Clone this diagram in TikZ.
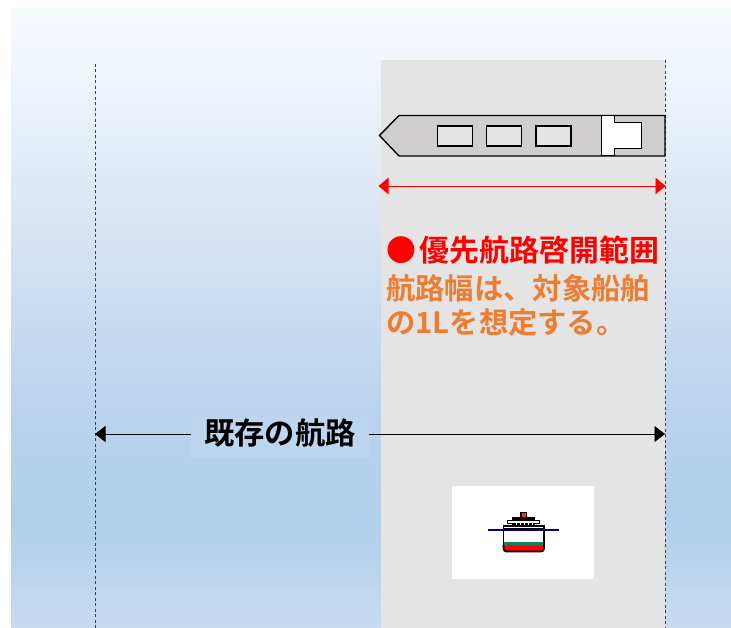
\documentclass[tikz,border=0pt]{standalone}
\usepackage{fontspec}
\usetikzlibrary{arrows.meta}
\newfontfamily\cjk{Noto Sans CJK JP Bold}
\definecolor{skyA}{HTML}{F6FAFD}
\definecolor{skyB}{HTML}{ECF2FA}
\definecolor{skyC}{HTML}{DCE7F5}
\definecolor{skyD}{HTML}{CBDDF1}
\definecolor{skyE}{HTML}{BCD4EC}
\definecolor{skyF}{HTML}{B0CFE8}
\definecolor{skyG}{HTML}{C8DBF0}
\definecolor{channel}{HTML}{E4E4E4}
\definecolor{hull}{HTML}{CFCDCD}
\definecolor{orangetxt}{HTML}{ED7D31}
\definecolor{labelbg}{HTML}{BBD6EE}
\definecolor{shipgreen}{HTML}{0F8060}
\definecolor{navy}{HTML}{000080}
% stops: 25bp = bottom edge (y=628), 75bp = top edge (y=9)
\pgfdeclareverticalshading{seashade}{100bp}{%
  color(0bp)=(skyG); color(25bp)=(skyG); color(33.7bp)=(skyF); color(43.4bp)=(skyE);
  color(51.5bp)=(skyD); color(59.5bp)=(skyC); color(67.6bp)=(skyB); color(75bp)=(skyA); color(100bp)=(skyA)}
\tikzset{
  x=1pt,y=-1pt,
  guide/.style={line width=0.7pt,black!75,dash pattern=on 3pt off 2.5pt},
  shipline/.style={draw=black,line width=1.4pt,line join=miter},
  cabin/.style={shipline,fill=channel},
  redtxt/.style={text=red,font=\cjk\fontsize{29.9}{30}\selectfont,anchor=west,inner sep=0pt},
  orangeline/.style={text=orangetxt,font=\cjk\fontsize{29.3}{30}\selectfont,anchor=west,inner sep=0pt},
  redarrow/.style={red,line width=0.8pt,{Triangle[length=10pt,width=16.5pt]}-{Triangle[length=10pt,width=16.5pt]},shorten <=-0.5pt,shorten >=-0.5pt},
  blackarrow/.style={black,line width=0.8pt,-{Triangle[length=10.5pt,width=16pt]}},
}
\begin{document}
\begin{tikzpicture}
\useasboundingbox (0,0) rectangle (731,628);
% background sea
\fill[white] (0,0) rectangle (731,628);
\shade[shading=seashade] (11,9) rectangle (731,628);
% channel
\fill[channel] (381,60) rectangle (665,628);
% guides
\coordinate (gl0) at (95.5,64); \coordinate (gl1) at (95.5,628);
\coordinate (gr0) at (665.5,60); \coordinate (gr1) at (665.5,628);
\draw[guide] (gl0) -- (gl1);
\draw[guide] (gr0) -- (gr1);
% long ship
\draw[shipline,fill=hull] (379.5,135.5) -- (399,115.5) -- (665,115.5) -- (665,156) -- (399,156) -- cycle;
\draw[cabin] (437.5,126) rectangle (472.5,146);
\draw[cabin] (486.5,126) rectangle (521.5,146);
\draw[cabin] (536,126) rectangle (571,146);
\draw[shipline,fill=white,line width=1pt] (601,115.5) -- (614,115.5) -- (614,123) -- (641,123) -- (641,148.5) -- (614,148.5) -- (614,156) -- (601,156) -- cycle;
% red arrow
\coordinate (ra) at (379,186); \coordinate (rb) at (665,186);
\draw[redarrow] (ra) -- (rb);
% red and orange text
\node[text=red,font=\cjk\fontsize{29.9}{30}\selectfont,anchor=west,inner sep=0pt] (dot) at (386,250) {●};
\node[redtxt] (title) at (419.5,250) {優先航路啓開範囲};
\node[orangeline] (l1) at (386,288.5) {航路幅は、対象船舶};
\node[orangeline] (l2) at (386,322) {の1Lを想定する。};
% existing channel label
\fill[labelbg] (191,417) rectangle (369,458);
\node[inner sep=0pt,text=black,font=\cjk\fontsize{30.3}{32}\selectfont] (ex) at (280,433) {既存の航路};
\coordinate (al) at (95,434); \coordinate (ar) at (665,434);
\coordinate (bl) at (191,434); \coordinate (br) at (369,434);
\draw[blackarrow] (bl) -- (al);
\draw[blackarrow] (br) -- (ar);
% end-on ship
\fill[white] (452,486) rectangle (594,579);
\fill[black] (520,512) rectangle (527,517);
\fill[orange!40!red] (521.5,513) rectangle (525.5,516.5);
\fill[black] (512,516.5) rectangle (535,520);
\draw[black,line width=1pt,fill=white] (507.5,520) rectangle (539.5,523);
\fill[black] (514,518) rectangle (533,519.5);
\fill[black] (512,523) rectangle (535,526);
\foreach \xx in {516,520,524,528,532}{\fill[white] (\xx,523) rectangle (\xx+1,525);}
\fill[white] (503.5,526) rectangle (544,546);
\fill[shipgreen] (503.5,541.7) rectangle (544,545.7);
\fill[red,rounded corners=2pt] (503.5,545.7) rectangle (544,551);
\draw[black,line width=1.3pt] (503.5,546) -- (503.5,526) -- (544,526) -- (544,546);
\draw[black,line width=1pt] (504,528.5) -- (544,528.5);
\draw[black,line width=1.8pt,rounded corners=3pt] (503.5,545) -- (503.5,551.5) -- (544,551.5) -- (544,545);
\draw[navy,line width=1.3pt] (487.5,530) -- (559,530);
\end{tikzpicture}
\end{document}
